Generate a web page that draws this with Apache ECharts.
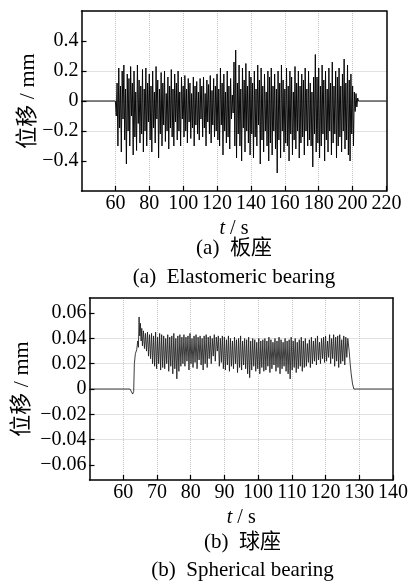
<!DOCTYPE html>
<html><head><meta charset="utf-8">
<script src="https://cdn.jsdelivr.net/npm/echarts@6/dist/echarts.min.js"></script>
<style>html,body{margin:0;padding:0;background:#fff}#c{width:411px;height:583px}</style>
</head><body><div id="c"></div>
<script>
// ---------- (a) Elastomeric bearing ----------
const topLead = [[40, 0], [60, 0]];
const topStart = 60.5, topStep = 0.5;
const topValues = [
  -0.1,
  0.12,-0.3,0.22,-0.18,0.1,-0.34,0.2,-0.12,0.24,-0.26,0.08,-0.42,0.18,-0.2,0.15,-0.3,0.23,-0.1,0.12,-0.36,
  0.2,-0.24,0.06,-0.33,0.24,-0.15,0.14,-0.28,0.1,-0.22,0.21,-0.34,0.08,-0.2,0.22,-0.3,0.12,-0.14,0.18,-0.26,
  0.1,-0.34,0.2,-0.18,0.06,-0.28,0.23,-0.12,0.14,-0.38,0.08,-0.22,0.19,-0.3,0.12,-0.16,0.2,-0.27,0.05,-0.2,
  0.16,-0.32,0.1,-0.18,0.21,-0.24,0.08,-0.3,0.18,-0.14,0.12,-0.26,0.2,-0.2,0.06,-0.3,0.16,-0.12,0.1,-0.24,
  0.17,-0.2,0.08,-0.28,0.15,-0.14,0.12,-0.25,0.05,-0.18,0.16,-0.3,0.1,-0.16,0.13,-0.22,0.06,-0.26,0.15,-0.12,
  0.1,-0.24,0.16,-0.18,0.05,-0.3,0.14,-0.14,0.11,-0.22,0.17,-0.28,0.07,-0.16,0.15,-0.24,0.1,-0.2,0.18,-0.26,
  0.08,-0.3,0.22,-0.16,0.12,-0.36,0.18,-0.2,0.06,-0.28,0.2,-0.24,0.1,-0.32,0.15,-0.12,0.04,-0.08,0.26,-0.3,
  0.34,-0.38,0.12,-0.22,0.24,-0.3,0.08,-0.4,0.22,-0.18,0.14,-0.34,0.25,-0.2,0.1,-0.28,0.2,-0.36,0.16,-0.22,
  0.12,-0.38,0.2,-0.24,0.08,-0.3,0.24,-0.16,0.14,-0.42,0.22,-0.26,0.1,-0.34,0.18,-0.2,0.06,-0.3,0.2,-0.4,
  0.16,-0.28,0.22,-0.36,0.1,-0.2,0.18,-0.32,0.08,-0.48,0.2,-0.26,0.12,-0.38,0.24,-0.2,0.14,-0.34,0.08,-0.28,
  0.22,-0.3,0.1,-0.4,0.2,-0.22,0.16,-0.36,0.06,-0.26,0.23,-0.32,0.12,-0.2,0.2,-0.38,0.1,-0.28,0.18,-0.24,
  0.14,-0.36,0.22,-0.2,0.08,-0.3,0.2,-0.26,0.12,-0.3,0.06,-0.44,0.16,-0.22,0.31,-0.34,0.16,-0.28,0.22,-0.38,
  0.1,-0.3,0.24,-0.22,0.14,-0.4,0.2,-0.26,0.08,-0.34,0.22,-0.2,0.12,-0.36,0.26,-0.28,0.1,-0.22,0.2,-0.38,
  0.16,-0.3,0.22,-0.24,0.1,-0.34,0.18,-0.2,0.28,-0.32,0.12,-0.26,0.24,-0.36,0.14,-0.4,0.18,-0.22,0.1,-0.3,
  0.06,-0.07,0.05,-0.04,0.02
];
const topTrail = [[203.5, 0], [220, 0]];

// ---------- (b) Spherical bearing ----------
const botLead = [[50,0],[62,0],[62.5,-0.001],[62.8,-0.004],[63.1,-0.002],[63.3,0.02],[63.6,0.028],
  [64.0,0.031],[64.3,0.038],[64.5,0.033],[64.7,0.057],[64.9,0.042],[65.1,0.052],[65.3,0.038],[65.5,0.048],[65.7,0.034]];
const botStart = 66.0, botStep = 0.3;
const botValues = [
  0.046,0.032,0.044,0.03,0.045,0.026,0.043,0.024,0.044,0.02,0.042,0.018,0.045,0.016,0.041,0.02,0.044,0.015,0.043,0.017,
  0.042,0.016,0.04,0.02,0.043,0.014,0.041,0.018,0.042,0.012,0.044,0.016,0.04,0.008,0.042,0.014,0.043,0.018,0.041,0.02,
  0.043,0.018,0.041,0.022,0.042,0.015,0.044,0.02,0.04,0.017,0.042,0.021,0.043,0.016,0.041,0.023,0.042,0.019,0.04,0.015,
  0.042,0.02,0.043,0.017,0.041,0.024,0.042,0.02,0.04,0.026,0.043,0.022,0.041,0.03,0.042,0.018,0.04,0.021,0.042,0.016,
  0.041,0.015,0.039,0.019,0.042,0.014,0.04,0.018,0.038,0.016,0.041,0.02,0.039,0.013,0.04,0.017,0.042,0.015,0.038,0.019,
  0.04,0.016,0.039,0.012,0.041,0.009,0.038,0.015,0.04,0.018,0.039,0.014,0.037,0.016,0.04,0.012,0.038,0.017,0.039,0.014,
  0.04,0.015,0.038,0.018,0.041,0.013,0.039,0.016,0.037,0.019,0.04,0.014,0.038,0.017,0.041,0.012,0.039,0.016,0.037,0.018,
  0.04,0.014,0.038,0.012,0.039,0.008,0.041,0.015,0.038,0.017,0.04,0.013,0.037,0.016,0.039,0.018,0.041,0.014,0.038,0.017,
  0.04,0.018,0.036,0.021,0.039,0.017,0.041,0.02,0.038,0.022,0.04,0.019,0.042,0.023,0.037,0.02,0.04,0.024,0.041,0.021,
  0.042,0.022,0.038,0.025,0.043,0.02,0.04,0.024,0.043,0.018,0.041,0.022,0.042,0.017,0.043,0.02,0.039,0.022,0.042,0.019,
  0.041,0.025,0.04
];
const botTrail = [[127.0,0.03],[127.3,0.02],[127.6,0.012],[128.0,0.004],[128.4,0],[128.7,-0.0008],[129.2,0],[140,0]];

const topYLabels = [-0.4,-0.2,0,0.2,0.4];
const botYLabels = [-0.06,-0.04,-0.02,0,0.02,0.04,0.06];
const yName = '位移 / mm';
const xName = '{i|t} / s';
const titlesA = ['(a)  板座', '(a)  Elastomeric bearing'];
const titlesB = ['(b)  球座', '(b)  Spherical bearing'];

function build(lead, start, step, vals, trail) {
  return lead.concat(vals.map((v, i) => [+(start + i * step).toFixed(2), v])).concat(trail);
}
const topData = build(topLead, topStart, topStep, topValues, topTrail);
const botData = build(botLead, botStart, botStep, botValues, botTrail);

const FONT = '"Liberation Serif", "Noto Sans CJK SC", serif';
const fmt = (d) => (v) => Math.abs(v) < 1e-9 ? '0' : v.toFixed(d).replace('-', '\u2212');

function xAxisCfg(grid, min, max, interval) {
  return [{
    type: 'value', gridIndex: grid, min, max, interval,
    axisLine: { show: true, onZero: false, lineStyle: { color: '#000', width: 1.5 } },
    axisTick: { show: true, inside: true, length: 5, lineStyle: { color: '#000', width: 1.2 } },
    axisLabel: { showMinLabel: false, color: '#000', fontSize: 20, fontFamily: FONT, margin: 3 },
    splitLine: { show: true, showMinLine: false, showMaxLine: false, lineStyle: { type: 'dotted', color: '#c4c4c4', width: 1 } },
    name: xName, nameLocation: 'middle', nameGap: 28, nameMoveOverlap: false,
    nameTextStyle: { color: '#000', fontSize: 20, fontFamily: FONT, rich: { i: { fontStyle: 'italic', fontSize: 20, fontFamily: FONT, color: '#000' } } }
  }, {
    type: 'value', gridIndex: grid, min, max, position: 'top',
    axisLine: { show: true, onZero: false, lineStyle: { color: '#000', width: 1.5 } },
    axisTick: { show: false }, axisLabel: { show: false }, splitLine: { show: false }
  }];
}
function yAxisCfg(grid, min, max, labels, dec, gap) {
  return [{
    type: 'value', gridIndex: grid, min, max,
    axisLine: { show: true, onZero: false, lineStyle: { color: '#000', width: 1.5 } },
    axisTick: { show: true, inside: true, length: 5, customValues: labels, lineStyle: { color: '#000', width: 1.2 } },
    axisLabel: { customValues: labels, formatter: fmt(dec), color: '#000', fontSize: 20, fontFamily: FONT, margin: 3 },
    splitLine: { show: true, showMinLine: false, showMaxLine: false, lineStyle: { type: 'dotted', color: '#c4c4c4', width: 1 } },
    name: yName, nameLocation: 'middle', nameRotate: 90, nameGap: gap, nameMoveOverlap: false,
    nameTextStyle: { color: '#000', fontSize: 22, fontFamily: FONT }
  }, {
    type: 'value', gridIndex: grid, min, max, position: 'right',
    axisLine: { show: true, onZero: false, lineStyle: { color: '#000', width: 1.5 } },
    axisTick: { show: false }, axisLabel: { show: false }, splitLine: { show: false }
  }];
}

const chart = echarts.init(document.getElementById('c'), null, { renderer: 'canvas' });
chart.setOption({
  animation: false,
  backgroundColor: '#fff',
  grid: [
    { left: 81.5, right: 24.5, top: 11, height: 180 },
    { left: 89.5, right: 15.5, top: 298, height: 182 }
  ],
  xAxis: xAxisCfg(0, 40, 220, 20).concat(xAxisCfg(1, 50, 140, 10)),
  yAxis: yAxisCfg(0, -0.6, 0.6, topYLabels, 1, 42).concat(yAxisCfg(1, -0.072, 0.072, botYLabels, 2, 56)),
  series: [
    { type: 'line', xAxisIndex: 0, yAxisIndex: 0, data: topData, showSymbol: false, sampling: null,
      lineStyle: { color: '#000', width: 0.95 } },
    { type: 'line', xAxisIndex: 2, yAxisIndex: 2, data: botData, showSymbol: false, sampling: null,
      lineStyle: { color: '#1a1a1a', width: 0.85 } }
  ],
  graphic: [
    { type: 'text', x: 234, y: 248, style: { text: titlesA[0], font: '21px ' + FONT, align: 'center', verticalAlign: 'middle', fill: '#000' } },
    { type: 'text', x: 234, y: 277, style: { text: titlesA[1], font: '21px ' + FONT, align: 'center', verticalAlign: 'middle', fill: '#000' } },
    { type: 'text', x: 242.5, y: 542, style: { text: titlesB[0], font: '21px ' + FONT, align: 'center', verticalAlign: 'middle', fill: '#000' } },
    { type: 'text', x: 242.5, y: 570, style: { text: titlesB[1], font: '21px ' + FONT, align: 'center', verticalAlign: 'middle', fill: '#000' } }
  ]
});
</script></body></html>
